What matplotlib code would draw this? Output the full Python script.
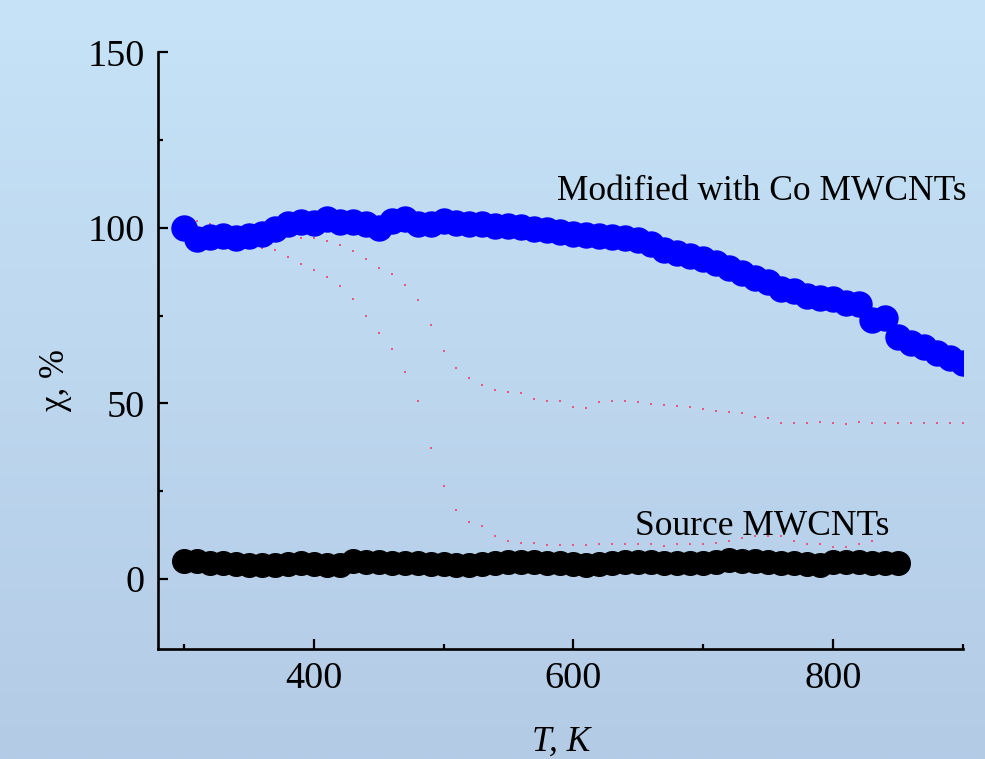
import numpy as np
import matplotlib
matplotlib.use("Agg")
import matplotlib.pyplot as plt
from matplotlib.ticker import MultipleLocator
from matplotlib.colors import LinearSegmentedColormap

# temperature grid, K
t_blue = np.arange(300, 910, 10)
t_black = np.arange(300, 860, 10)
t_red_hi = np.arange(300, 910, 10)
t_red_lo = np.arange(300, 840, 10)

# Modified with Co MWCNTs
chi_blue = [100, 96.9, 97.4, 97.7, 97.2, 97.7, 98.3, 99.7, 101.1, 101.7,
            101.4, 102.6, 101.7, 101.7, 101.1, 100, 102, 102.6, 101.1, 101.1,
            102, 101.4, 101.1, 101.1, 100.5, 100.4, 100.2, 99.8, 99.4, 98.8,
            98.3, 97.9, 97.6, 97.3, 97.1, 96.5, 95.3, 93.8, 92.8, 92.0,
            91.2, 90.0, 88.5, 87.0, 85.8, 84.6, 82.7, 82.0, 80.7, 80.1,
            79.8, 78.7, 78.4, 73.6, 74.4, 68.8, 67.3, 65.9, 64.2, 62.8, 61.6]

# Source MWCNTs
chi_black = [5.1, 5.0, 4.6, 4.4, 4.2, 4.0, 4.0, 4.0, 4.1, 4.4,
             4.2, 4.0, 3.8, 5.0, 4.9, 4.7, 4.6, 4.5, 4.4, 4.2,
             4.1, 4.0, 4.0, 4.2, 4.6, 4.8, 4.8, 4.7, 4.6, 4.4,
             4.2, 4.0, 4.2, 4.5, 4.8, 4.9, 4.7, 4.6, 4.5, 4.4,
             4.6, 4.8, 5.3, 5.2, 5.0, 4.8, 4.6, 4.5, 4.3, 4.0,
             4.8, 4.9, 4.7, 4.5, 4.5, 4.5]

# dotted reference curves
chi_red_hi = [102, 102, 101, 100.3, 99.8, 99.3, 98.8, 98.3, 97.7, 97.0,
              97.0, 96.3, 95.2, 93.5, 91.2, 88.6, 86.9, 83.8, 79.3, 72.4,
              65.0, 60.2, 57.1, 55.1, 53.7, 53.1, 52.8, 51.1, 50.6, 50.6,
              48.9, 48.6, 50.3, 50.6, 50.6, 50.3, 49.7, 49.4, 49.1, 48.9,
              48.3, 47.7, 47.4, 47.2, 46.0, 45.7, 44.3, 44.3, 44.3, 44.6,
              44.3, 44.0, 44.6, 44.3, 44.3, 44.3, 44.3, 44.3, 44.3, 44.3, 44.3]

chi_red_lo = [101, 100.5, 99.5, 98.0, 96.5, 95.3, 94.3, 93.7, 91.8, 89.8,
              88.1, 86.1, 83.5, 79.8, 75.0, 69.9, 65.6, 58.8, 50.6, 37.2,
              26.5, 19.5, 16.2, 15.1, 12.2, 10.8, 10.2, 10.2, 9.7, 9.5,
              9.5, 9.7, 9.9, 9.9, 9.9, 9.9, 9.9, 9.4, 9.9, 9.9,
              9.9, 10.2, 10.8, 11.6, 12.2, 12.2, 12.2, 10.8, 9.9, 9.9,
              9.1, 9.1, 9.9, 10.8]

serif = ["Liberation Serif", "DejaVu Serif"]
plt.rcParams["font.family"] = serif

fig = plt.figure(figsize=(9.85, 7.59), dpi=100)

# gradient background
bg = fig.add_axes([0, 0, 1, 1], zorder=-10)
cmap = LinearSegmentedColormap.from_list("bg", ["#c6e3f7", "#b4cbe6"])
bg.imshow(np.linspace(0, 1, 256).reshape(-1, 1), aspect="auto", cmap=cmap,
          extent=[0, 1, 0, 1])
bg.axis("off")

ax = fig.add_axes([0.160, 0.145, 0.818, 0.786])
ax.patch.set_alpha(0)

ax.plot(t_red_hi, chi_red_hi, ls="none", marker="s", ms=1.6, mew=0,
        color="#e8587f", zorder=1)
ax.plot(t_red_lo, chi_red_lo, ls="none", marker="s", ms=1.6, mew=0,
        color="#e8587f", zorder=1)
ax.plot(t_blue, chi_blue, "-o", color="#0000ff", ms=18, lw=2, zorder=3)
ax.plot(t_black, chi_black, "-o", color="black", ms=17, lw=2, zorder=3)

ax.set_xlim(280, 900)
ax.set_ylim(-20, 150)
ax.xaxis.set_major_locator(MultipleLocator(200))
ax.xaxis.set_minor_locator(MultipleLocator(100))
ax.yaxis.set_major_locator(MultipleLocator(50))
ax.yaxis.set_minor_locator(MultipleLocator(25))

for s in ["top", "right"]:
    ax.spines[s].set_visible(False)
for s in ["left", "bottom"]:
    ax.spines[s].set_linewidth(1.9)

ax.tick_params(which="major", direction="in", length=7.2, width=1.6,
               labelsize=27.5, pad=9)
ax.tick_params(which="minor", direction="in", length=3.6, width=1.6)

fig.text(557 / 985, 1 - 200 / 759, "Modified with Co MWCNTs", fontsize=25.5,
         ha="left", va="baseline")
fig.text(635 / 985, 1 - 535 / 759, "Source MWCNTs", fontsize=25.5,
         ha="left", va="baseline")

# axis labels (the reference crops T, K at the bottom edge)
fig.text(561 / 985, 1 - 751 / 759, "T, K", fontsize=25.5, style="italic",
         ha="center", va="baseline")
fig.text(72 / 985, 1 - 380 / 759, "\u03c7, %", fontsize=25, rotation=90,
         ha="right", va="center")

fig.savefig("out.png", dpi=100)
